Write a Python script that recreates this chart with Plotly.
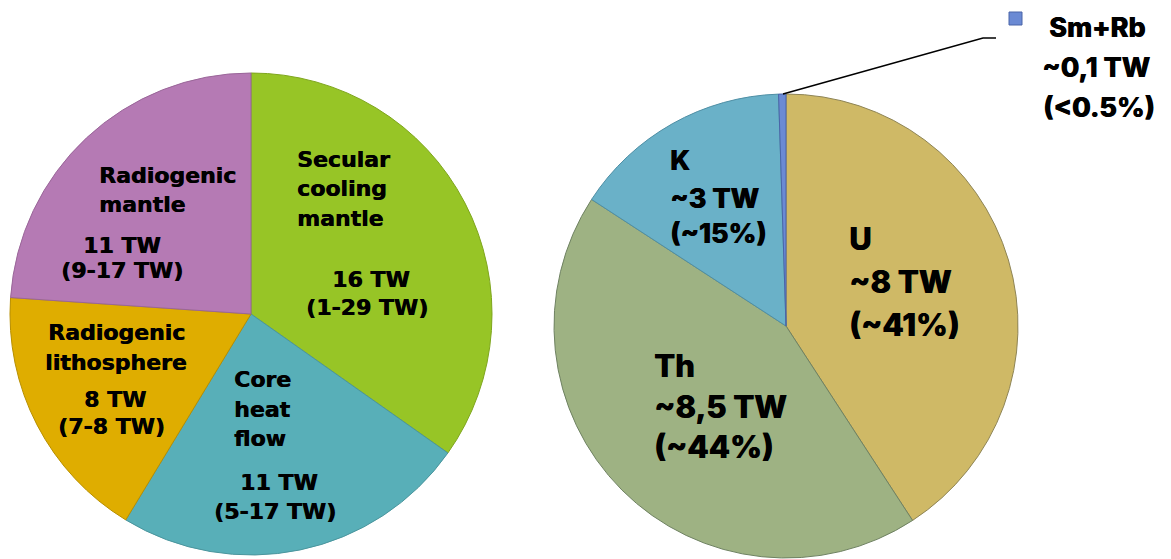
import plotly.graph_objects as go

W, H = 1171, 559

# Earth's heat budget (TW)
budget_labels = ["Secular cooling mantle", "Core heat flow",
                 "Radiogenic lithosphere", "Radiogenic mantle"]
budget_values = [16, 11, 8, 11]
budget_ranges = ["(1-29 TW)", "(5-17 TW)", "(7-8 TW)", "(9-17 TW)"]

# Radiogenic heat by element (TW)
element_labels = ["U", "Th", "K", "Sm+Rb"]
element_values = [8, 8.5, 3, 0.1]
element_shares = ["(~41%)", "(~44%)", "(~15%)", "(<0.5%)"]

budget_colors = ["#97C526", "#58AFB8", "#DFAD00", "#B57AB4"]
budget_edges = ["#7FA61E", "#4A959D", "#B88F00", "#9A6699"]
element_colors = ["#CFB966", "#9EB283", "#6AB1C8", "#6B8AD4"]
element_edges = ["#8E8455", "#6F8262", "#4F8FA5", "#4A64A8"]


def px(x):
    return x / W


def py(y):
    return 1 - y / H


fig = go.Figure()
fig.add_trace(go.Pie(
    labels=budget_labels, values=budget_values, sort=False,
    direction="clockwise", rotation=0,
    marker=dict(colors=budget_colors, line=dict(color=budget_edges, width=1)),
    textinfo="none", hoverinfo="skip", showlegend=False,
    domain=dict(x=[px(10), px(492)], y=[py(555), py(73)]),
))
fig.add_trace(go.Pie(
    labels=element_labels, values=element_values, sort=False,
    direction="clockwise", rotation=0,
    marker=dict(colors=element_colors, line=dict(color=element_edges, width=1)),
    textinfo="none", hoverinfo="skip", showlegend=False,
    domain=dict(x=[px(554), px(1018)], y=[py(558), py(94)]),
))

LF = "DejaVu Sans"
RF = "Inter"
HEAVY = "0.6px 0 0 black"


def tw(v):
    return f"{v:g} TW".replace(".", ",")


def line(text, x, base, size, family, anchor="left", weight=700, shadow=HEAVY):
    fig.add_annotation(
        text=text, x=px(x), y=py(base - 0.36 * size),
        xref="paper", yref="paper",
        xanchor=anchor, yanchor="middle", showarrow=False,
        font=dict(family=family, size=size, color="black", weight=weight,
                  shadow=shadow),
    )


def left(text, x, base, anchor="left"):
    line(text, x, base, 22, LF, anchor, 700)


def right(text, x, base, size, anchor="left"):
    line(text, x, base, size, RF, anchor, 800)


# left pie labels
left("Secular", 295, 167)
left("cooling", 295, 196)
left("mantle", 295, 226)
left(tw(budget_values[0]), 371, 287, "center")
left(budget_ranges[0], 367, 315, "center")

left("Core", 232, 387)
left("heat", 232, 417)
left("flow", 232, 446)
left(tw(budget_values[1]), 279, 490, "center")
left(budget_ranges[1], 275, 519, "center")

left("Radiogenic", 116, 340, "center")
left("lithosphere", 116, 370, "center")
left(tw(budget_values[2]), 115, 407, "center")
left(budget_ranges[2], 112, 434, "center")

left("Radiogenic", 97, 183)
left("mantle", 97, 212)
left(tw(budget_values[3]), 122, 253, "center")
left(budget_ranges[3], 122, 278, "center")

# right pie labels
right(element_labels[0], 847, 250, 31)
right("~" + tw(element_values[0]), 847, 293, 31)
right(element_shares[0], 847, 336, 31)

right(element_labels[1], 652, 377, 31)
right("~" + tw(element_values[1]), 652, 418, 31)
right(element_shares[1], 652, 458, 31)

right(element_labels[2], 668, 170, 27)
right("~" + tw(element_values[2]), 668, 208, 27)
right(element_shares[2], 668, 243, 27)

right(element_labels[3], 1097, 37, 27, "center")
right("~" + tw(element_values[3]), 1096, 77, 27, "center")
right(element_shares[3], 1099, 117, 27, "center")

# leader line and swatch for the tiny Sm+Rb slice
fig.add_shape(type="path", xref="paper", yref="paper",
              path=f"M {px(783)} {py(94)} L {px(983)} {py(38)} L {px(996)} {py(38)}",
              line=dict(color="black", width=1.5))
fig.add_shape(type="rect", xref="paper", yref="paper",
              x0=px(1009), x1=px(1022), y0=py(25), y1=py(12),
              fillcolor=element_colors[3], line=dict(color=element_edges[3], width=1))

fig.update_layout(
    width=W, height=H, margin=dict(l=0, r=0, t=0, b=0),
    paper_bgcolor="white", plot_bgcolor="white",
)
fig.write_html("out.html")
